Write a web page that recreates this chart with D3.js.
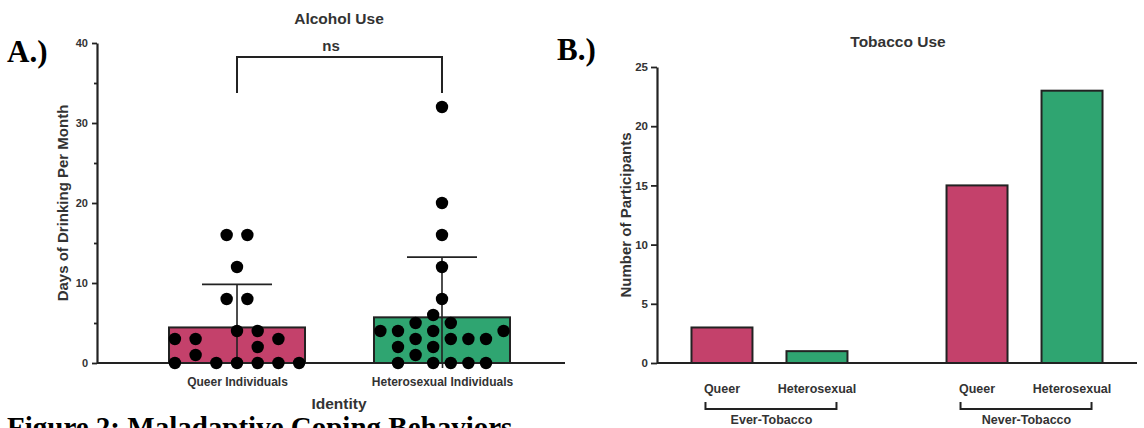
<!DOCTYPE html>
<html>
<head>
<meta charset="utf-8">
<script src="https://cdn.jsdelivr.net/npm/d3@7"></script>
<style>
  body { margin: 0; background: #fff; }
  svg { display: block; font-family: "Liberation Sans", Arial, sans-serif; }
</style>
</head>
<body>
<svg id="fig" width="1144" height="428"></svg>
<script>
// ---- panel A data: days of drinking per month, one entry per participant
var alcoholGroups = ["Queer Individuals", "Heterosexual Individuals"];
var queerDays  = [16, 16, 12, 8, 8, 4, 4, 3, 3, 3, 2, 1, 0, 0, 0, 0, 0, 0];
var queerSlot  = [-0.5, 0.5, 0, -0.5, 0.5, 0, 1, -3, -2, 2, 1, -2, -3, -1, 0, 1, 2, 3];
var heteroDays = [32, 20, 16, 12, 8, 6, 5, 5, 4, 4, 4, 4, 3, 3, 3, 3, 2, 2, 1, 0, 0, 0, 0, 0];
var heteroSlot = [0, 0, 0, 0, 0, -0.5, -1.5, 0.5, -3.5, -2.5, -0.5, 3.5, -1.5, 0.5, 1.5, 2.5, -2.5, -0.5, -1.5, -2.5, -0.5, 0.5, 1.5, 2.5];
var alcoholTicks = [0, 10, 20, 30, 40];
var alcoholMinor = [5, 15, 25, 35];

// ---- panel B data: number of participants
var tobaccoGroups = ["Ever-Tobacco", "Never-Tobacco"];
var identities = ["Queer", "Heterosexual"];
var everCounts = [3, 1];
var neverCounts = [15, 23];
var tobaccoTicks = [0, 5, 10, 15, 20, 25];

var pink = "#c4416b", green = "#2fa571", ink = "#222", txt = "#333";

var svg = d3.select("#fig");

// ================= Panel A =================
var a = svg.append("g");
var yA = d3.scaleLinear().domain([0, 40]).range([363, 43]);
var xA = d3.scalePoint().domain(alcoholGroups).range([97, 582]).padding(0.683);

var groupsA = [
  {name: alcoholGroups[0], vals: queerDays, slot: queerSlot, fill: pink, gap: 20.7},
  {name: alcoholGroups[1], vals: heteroDays, slot: heteroSlot, fill: green, gap: 17.6}
];
groupsA.forEach(function(g){
  g.mean = d3.mean(g.vals);
  g.sd = d3.deviation(g.vals);
});

var barW = 136;
a.selectAll("rect.bar").data(groupsA).enter().append("rect")
  .attr("class", "bar")
  .attr("x", function(d){ return xA(d.name) - barW / 2; })
  .attr("y", function(d){ return yA(d.mean); })
  .attr("width", barW)
  .attr("height", function(d){ return yA(0) - yA(d.mean); })
  .style("fill", function(d){ return d.fill; })
  .style("stroke", ink).style("stroke-width", 2);

// error bars (mean ± SD, clipped at 0)
a.selectAll("line.err").data(groupsA).enter().append("line")
  .attr("x1", function(d){ return xA(d.name); })
  .attr("x2", function(d){ return xA(d.name); })
  .attr("y1", function(d){ return yA(Math.max(0, d.mean - d.sd)); })
  .attr("y2", function(d){ return yA(d.mean + d.sd); })
  .style("stroke", ink).style("stroke-width", 1.6);
a.selectAll("line.cap").data(groupsA).enter().append("line")
  .attr("x1", function(d){ return xA(d.name) - 35; })
  .attr("x2", function(d){ return xA(d.name) + 35; })
  .attr("y1", function(d){ return yA(d.mean + d.sd); })
  .attr("y2", function(d){ return yA(d.mean + d.sd); })
  .style("stroke", ink).style("stroke-width", 1.6);

// x axis
var xAxisA = a.append("g").attr("transform", "translate(0," + yA(0) + ")")
  .call(d3.axisBottom(xA).tickSize(5).tickPadding(9).tickSizeOuter(0));
xAxisA.select(".domain").remove();
xAxisA.append("line").attr("x1", 97).attr("x2", 565).attr("y1", 0).attr("y2", 0)
  .style("stroke", ink).style("stroke-width", 2);
xAxisA.selectAll(".tick line").style("stroke", ink).style("stroke-width", 1.6);
xAxisA.selectAll("text").style("font-size", "12px").style("font-weight", "bold").style("fill", txt);

// dots
groupsA.forEach(function(g){
  a.append("g").selectAll("circle").data(g.vals).enter().append("circle")
    .attr("cx", function(d, i){ return xA(g.name) + g.slot[i] * g.gap; })
    .attr("cy", function(d){ return yA(d); })
    .attr("r", 6.2)
    .style("fill", "#000");
});

// y axis
var yAxisA = a.append("g").attr("transform", "translate(97,0)")
  .call(d3.axisLeft(yA).tickValues(alcoholTicks).tickSize(5).tickPadding(4).tickSizeOuter(0));
a.append("g").attr("transform", "translate(97,0)")
  .call(d3.axisLeft(yA).tickValues(alcoholMinor).tickSize(3).tickFormat(""))
  .call(function(g){ g.select(".domain").remove(); })
  .selectAll("line").style("stroke", ink).style("stroke-width", 1.8);
yAxisA.select(".domain").style("stroke", ink).style("stroke-width", 2.2);
yAxisA.selectAll(".tick line").style("stroke", ink).style("stroke-width", 1.8);
yAxisA.selectAll("text").style("font-size", "11px").style("font-weight", "bold").style("fill", txt);

// significance bracket
var bY = 57, legY = 93;
a.append("path")
  .attr("d", "M" + xA(alcoholGroups[0]) + "," + legY + "V" + bY + "H" + xA(alcoholGroups[1]) + "V" + legY)
  .style("fill", "none").style("stroke", ink).style("stroke-width", 2);
a.append("text").attr("x", 331).attr("y", 51).attr("text-anchor", "middle")
  .style("font-size", "15px").style("font-weight", "bold").style("fill", txt).text("ns");

a.append("text").attr("x", 339).attr("y", 24).attr("text-anchor", "middle")
  .style("font-size", "15.5px").style("font-weight", "bold").style("fill", txt).text("Alcohol Use");
a.append("text").attr("x", 339).attr("y", 409).attr("text-anchor", "middle")
  .style("font-size", "15.5px").style("font-weight", "bold").style("fill", txt).text("Identity");
a.append("text").attr("transform", "translate(68," + (yA(20)) + ")rotate(-90)")
  .attr("text-anchor", "middle")
  .style("font-size", "15px").style("font-weight", "bold").style("fill", txt).text("Days of Drinking Per Month");

// ================= Panel B =================
var b = svg.append("g");
var yB = d3.scaleLinear().domain([0, 25]).range([363, 67]);
var xB = d3.scalePoint().domain(tobaccoGroups).range([657, 1137]).padding(0.441);
var xSub = d3.scaleBand().domain(identities).range([-95, 95]).paddingInner(0.358).paddingOuter(0.179);

var tobacco = [];
tobaccoGroups.forEach(function(grp, gi){
  var counts = gi === 0 ? everCounts : neverCounts;
  identities.forEach(function(id, k){
    tobacco.push({group: grp, id: id, n: counts[k]});
  });
});

b.selectAll("rect").data(tobacco).enter().append("rect")
  .attr("x", function(d){ return xB(d.group) + xSub(d.id); })
  .attr("y", function(d){ return yB(d.n); })
  .attr("width", xSub.bandwidth())
  .attr("height", function(d){ return yB(0) - yB(d.n); })
  .style("fill", function(d){ return d.id === "Queer" ? pink : green; })
  .style("stroke", ink).style("stroke-width", 2);

b.append("line").attr("x1", 657).attr("x2", 1137).attr("y1", yB(0)).attr("y2", yB(0))
  .style("stroke", ink).style("stroke-width", 2);

// identity labels
b.selectAll("text.id").data(tobacco).enter().append("text")
  .attr("x", function(d){ return xB(d.group) + xSub(d.id) + xSub.bandwidth() / 2; })
  .attr("y", 393).attr("text-anchor", "middle")
  .style("font-size", "12.5px").style("font-weight", "bold").style("fill", txt)
  .text(function(d){ return d.id; });

// group brackets
tobaccoGroups.forEach(function(grp){
  var c = xB(grp);
  b.append("path")
    .attr("d", "M" + (c - 64) + ",402V409H" + (c + 67) + "V402")
    .style("fill", "none").style("stroke", ink).style("stroke-width", 2);
  b.append("text").attr("x", c + 2).attr("y", 424).attr("text-anchor", "middle")
    .style("font-size", "12.5px").style("font-weight", "bold").style("fill", txt).text(grp);
});

var yAxisB = b.append("g").attr("transform", "translate(657,0)")
  .call(d3.axisLeft(yB).tickValues(tobaccoTicks).tickSize(6).tickPadding(3).tickSizeOuter(0));
yAxisB.select(".domain").style("stroke", ink).style("stroke-width", 2.2);
yAxisB.selectAll(".tick line").style("stroke", ink).style("stroke-width", 1.8);
yAxisB.selectAll("text").style("font-size", "11.5px").style("font-weight", "bold").style("fill", txt);

b.append("text").attr("x", 898).attr("y", 47).attr("text-anchor", "middle")
  .style("font-size", "15.5px").style("font-weight", "bold").style("fill", txt).text("Tobacco Use");
b.append("text").attr("transform", "translate(631," + yB(12.5) + ")rotate(-90)")
  .attr("text-anchor", "middle")
  .style("font-size", "15px").style("font-weight", "bold").style("fill", txt).text("Number of Participants");

// ================= panel letters and caption =================
var serif = '"Liberation Serif", "Times New Roman", serif';
svg.append("text").attr("x", 7).attr("y", 62).style("font-family", serif)
  .style("font-size", "31px").style("font-weight", "bold").style("fill", "#000").text("A.)");
svg.append("text").attr("x", 557).attr("y", 60).style("font-family", serif)
  .style("font-size", "31px").style("font-weight", "bold").style("fill", "#000").text("B.)");
svg.append("text").attr("x", 7).attr("y", 437).style("font-family", serif)
  .style("font-size", "29px").style("font-weight", "bold").style("fill", "#000")
  .text("Figure 2: Maladaptive Coping Behaviors");
</script>
</body>
</html>
